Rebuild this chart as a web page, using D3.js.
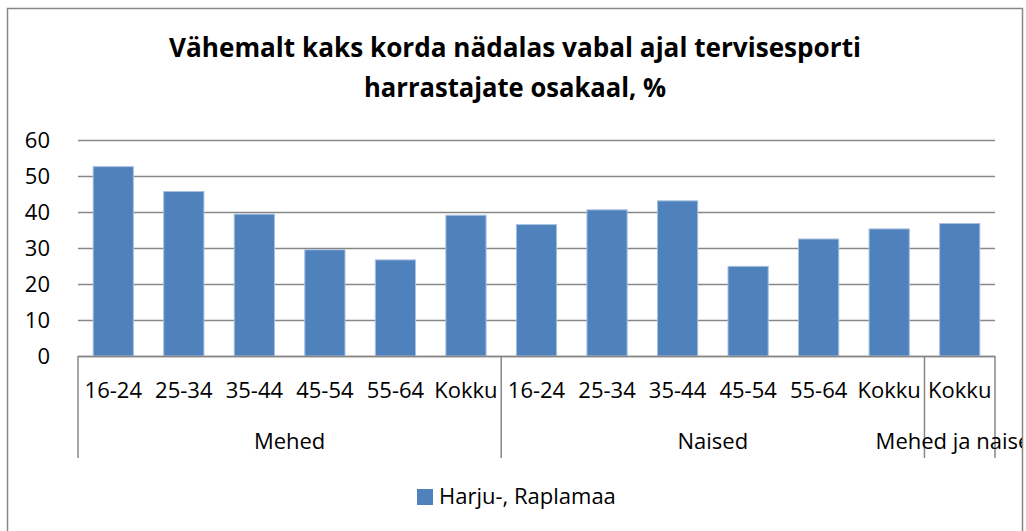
<!DOCTYPE html>
<html>
<head>
<meta charset="utf-8">
<script src="https://cdn.jsdelivr.net/npm/d3@7"></script>
<style>
  body { margin: 0; background: #fff; }
  svg { display: block; }
  text { font-family: 'Open Sans', 'Noto Sans', sans-serif; fill: #000; }
</style>
</head>
<body>
<div id="chart"></div>
<script>
// data
const ageGroups = ['16-24', '25-34', '35-44', '45-54', '55-64', 'Kokku',
                   '16-24', '25-34', '35-44', '45-54', '55-64', 'Kokku',
                   'Kokku']
const sexGroups = ['Mehed', 'Naised', 'Mehed ja naised']
const groupSizes = [6, 6, 1]
const values = [52.6, 45.7, 39.4, 29.5, 26.7, 39.1,
                36.5, 40.6, 43.1, 24.9, 32.5, 35.3,
                36.8]
const yTicks = [0, 10, 20, 30, 40, 50, 60]
const seriesName = 'Harju-, Raplamaa'
const titleLines = ['Vähemalt kaks korda nädalas vabal ajal tervisesporti',
                    'harrastajate osakaal, %']

const width = 1026
const height = 531
const plotLeft = 78, plotRight = 995, plotTop = 140, plotBottom = 356

const barColor = '#4f81bd'
const gridColor = '#878787'
const labelSize = '22px'

const svg = d3.select('#chart')
  .append('svg')
  .attr('width', width)
  .attr('height', height)

svg.append('defs').append('clipPath')
  .attr('id', 'frame')
  .append('rect')
  .attr('x', 8).attr('y', 9)
  .attr('width', 1014).attr('height', 540)

// outer frame
svg.append('rect')
  .attr('x', 7.5).attr('y', 8.5)
  .attr('width', 1015).attr('height', 540)
  .attr('fill', 'none')
  .attr('stroke', gridColor)
  .attr('stroke-width', 1.5)

// title
svg.selectAll('.title')
  .data(titleLines)
  .enter()
  .append('text')
  .attr('class', 'title')
  .attr('x', 515)
  .attr('y', (d, i) => 57 + i * 40)
  .attr('text-anchor', 'middle')
  .style('font-size', '26px')
  .style('font-weight', 'bold')
  .attr('textLength', (d, i) => i == 0 ? 692 : 302)
  .attr('lengthAdjust', 'spacingAndGlyphs')
  .text(d => d)

// scales
const xScale = d3.scaleBand()
  .domain(d3.range(values.length))
  .range([plotLeft, plotRight])
  .paddingInner(0.43)
  .paddingOuter(0.215)

const yScale = d3.scaleLinear()
  .domain([0, 60])
  .range([plotBottom, plotTop])

const step = xScale.step()

// gridlines + y labels
const yAxis = d3.axisLeft(yScale)
  .tickValues(yTicks)
  .tickSize(-(plotRight - plotLeft))
  .tickPadding(28)

const gy = svg.append('g')
  .attr('transform', 'translate(' + plotLeft + ',0)')
  .call(yAxis)

gy.select('.domain').remove()
gy.selectAll('line')
  .attr('stroke', gridColor)
  .attr('stroke-width', 1.5)
gy.selectAll('text')
  .style('font-size', labelSize)
  .attr('dy', '0.36em')

// bars
svg.selectAll('.bar')
  .data(values)
  .enter()
  .append('rect')
  .attr('class', 'bar')
  .attr('x', (d, i) => xScale(i))
  .attr('y', d => yScale(d))
  .attr('width', xScale.bandwidth())
  .attr('height', d => yScale(0) - yScale(d))
  .attr('fill', barColor)
  .attr('stroke', '#a7c0e0')
  .attr('stroke-width', 1)

// x axis line
svg.append('line')
  .attr('x1', plotLeft).attr('x2', plotRight)
  .attr('y1', plotBottom + 0.5).attr('y2', plotBottom + 0.5)
  .attr('stroke', gridColor)
  .attr('stroke-width', 1.5)

// group separators
let bounds = [0]
groupSizes.forEach(n => bounds.push(bounds[bounds.length - 1] + n))

svg.selectAll('.sep')
  .data(bounds)
  .enter()
  .append('line')
  .attr('class', 'sep')
  .attr('x1', d => plotLeft + d * step)
  .attr('x2', d => plotLeft + d * step)
  .attr('y1', plotBottom)
  .attr('y2', 458)
  .attr('stroke', gridColor)
  .attr('stroke-width', 1.5)

// category labels
svg.selectAll('.cat')
  .data(ageGroups)
  .enter()
  .append('text')
  .attr('class', 'cat')
  .attr('x', (d, i) => xScale(i) + xScale.bandwidth() / 2)
  .attr('y', 398)
  .attr('text-anchor', 'middle')
  .style('font-size', labelSize)
  .text(d => d)

// group labels (the last one runs past the frame, as in the original)
svg.append('g')
  .attr('clip-path', 'url(#frame)')
  .selectAll('.grp')
  .data(sexGroups)
  .enter()
  .append('text')
  .attr('class', 'grp')
  .attr('x', (d, i) => plotLeft + (bounds[i] + bounds[i + 1]) / 2 * step)
  .attr('y', 449)
  .attr('text-anchor', 'middle')
  .style('font-size', labelSize)
  .text(d => d)

// legend
const legend = svg.append('g')
  .attr('transform', 'translate(417,489)')

legend.append('rect')
  .attr('width', 16)
  .attr('height', 16)
  .attr('fill', barColor)

legend.append('text')
  .attr('x', 22)
  .attr('y', 15)
  .style('font-size', labelSize)
  .text(seriesName)
</script>
</body>
</html>
